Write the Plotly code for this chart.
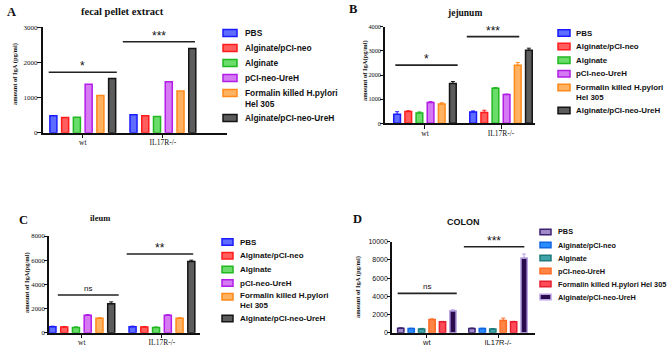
import plotly.graph_objects as go

W, H = 669, 351

groups = ["wt", "IL17R-/-"]
series_abc = ["PBS", "Alginate/pCI-neo", "Alginate", "pCI-neo-UreH",
              "Formalin killed H.pylori<br>Hel 305", "Alginate/pCI-neo-UreH"]
series_d = ["PBS", "Alginate/pCI-neo", "Alginate", "pCI-neo-UreH",
            "Formalin killed H.pylori Hel 305", "Alginate/pCI-neo-UreH"]

# values per series: [wt, IL17R-/-]
fecal = [[480, 510], [430, 480], [440, 460], [1380, 1450], [1060, 1190], [1540, 2400]]
jejunum = [[370, 470], [490, 450], [430, 1450], [860, 1190], [800, 2400], [1650, 3020]]
jejunum_err = [[110, 40], [30, 90], [40, 30], [40, 20], [50, 120], [80, 90]]
ileum = [[500, 500], [480, 480], [440, 440], [1450, 1450], [1200, 1200], [2400, 5900]]
ileum_err = [[40, 40], [30, 30], [40, 30], [50, 40], [30, 30], [150, 100]]
colon = [[480, 470], [450, 450], [420, 420], [1450, 1350], [1200, 1200], [2400, 8200]]
colon_err = [[60, 40], [40, 40], [50, 40], [60, 250], [40, 50], [120, 450]]

panel_titles = ["fecal pellet extract", "jejunum", "ileum", "COLON"]
panel_letters = ["A", "B", "C", "D"]
y_titles = ["amount of IgA (pg/ml)", "amount of IgA(pg/ml)", "amount of IgA(pg/ml)", "amount of IgA (pg/ml)"]
sig_labels = [["*", "***"], ["*", "***"], ["ns", "**"], ["ns", "***"]]
sig_levels = [[1720, 2590], [2410, 3590], [3120, 6510], [4320, 9450]]

fill_abc = ["#5e6cff", "#ff5e5e", "#6adc6a", "#d57af2", "#ffb262", "#5c5c5c"]
line_abc = ["#1c1cff", "#ff1c1c", "#22b822", "#b21de8", "#ff8a1a", "#151515"]
fill_d = ["#a08ac8", "#2a8cff", "#3fa3a8", "#ff8545", "#ff4a58", "#2a0b4e"]
line_d = ["#3e2272", "#1266e0", "#1f7c7c", "#ff6a24", "#e51f30", "#b9a3e3"]

SERIF = "Liberation Serif, Times New Roman, serif"
SANS = "Liberation Sans, Arial, sans-serif"

def xp(px):
    return px / W

def yp(py):
    return 1 - py / H

# panel geometry (pixels)
panels = [
    dict(data=fecal, err=None, names=series_abc, fill=fill_abc, line=line_abc,
         x0=42.7, x1=227, ytop=27.3, ybot=132.7, ymax=3000, dtick=1000,
         xr=[-0.50, 1.80], tickfont=SERIF, ytf=7, ticklen=4,
         ytitle_xy=(15, 74),
         sigx=[[-0.425, 0.425], [0.5, 1.4]],
         title_xy=(122, 11), title_font=(SERIF, 10.5), letter_xy=(11, 12),
         leg=dict(x=223, y=33, dy=15, extra=10, fs=8.4, sw=14, sh=7, tx=243)),
    dict(data=jejunum, err=jejunum_err, names=series_abc, fill=fill_abc, line=line_abc,
         x0=385, x1=535, ytop=26.7, ybot=123.3, ymax=4000, dtick=1000,
         xr=[-0.526, 1.447], tickfont=SERIF, ytf=6.3, ticklen=3,
         ytitle_xy=(365, 70),
         sigx=[[-0.39, 0.43], [0.55, 1.24]],
         title_xy=(464, 13), title_font=(SERIF, 9.5), letter_xy=(353, 9),
         leg=dict(x=558, y=33, dy=13.6, extra=9.5, fs=7.9, sw=12, sh=6.5, tx=574)),
    dict(data=ileum, err=ileum_err, names=series_abc, fill=fill_abc, line=line_abc,
         x0=49, x1=200, ytop=236, ybot=332.7, ymax=8000, dtick=2000,
         xr=[-0.41, 1.475], tickfont=SERIF, ytf=6.8, ticklen=3,
         ytitle_xy=(27, 283),
         sigx=[[-0.30, 0.46], [0.56, 1.39]],
         title_xy=(100, 218), title_font=(SERIF, 8.5), letter_xy=(23, 220),
         leg=dict(x=222, y=242, dy=13.7, extra=8, fs=8.0, sw=11, sh=6.5, tx=238)),
    dict(data=colon, err=colon_err, names=series_d, fill=fill_d, line=line_d,
         x0=392, x1=535, ytop=241.7, ybot=332.7, ymax=10000, dtick=2000,
         xr=[-0.49, 1.52], tickfont=SANS, ytf=7, ticklen=3,
         ytitle_xy=(358, 287),
         sigx=[[-0.41, 0.42], [0.52, 1.37]],
         title_xy=(463, 222), title_font=(SANS, 9), letter_xy=(358, 219),
         leg=dict(x=540, y=232, dy=13, extra=0, fs=7.3, sw=11, sh=5.5, tx=556)),
]

fig = go.Figure()
annotations = []
shapes = []
layout = {}

for pi, p in enumerate(panels):
    k = "" if pi == 0 else str(pi + 1)
    xa, ya = "x" + k, "y" + k
    for si, name in enumerate(p["names"]):
        vals = p["data"][si]
        ey = None
        if p["err"] is not None:
            ey = dict(type="data", array=p["err"][si], arrayminus=[0, 0], symmetric=False,
                      color=p["line"][si], thickness=1, width=2, visible=True)
        fig.add_trace(go.Bar(
            x=groups, y=vals, name=name.replace("<br>", " "),
            marker=dict(color=p["fill"][si], line=dict(color=p["line"][si], width=1.5)),
            error_y=ey, xaxis=xa, yaxis=ya, showlegend=False,
        ))
    layout["xaxis" + k] = dict(
        domain=[xp(p["x0"]), xp(p["x1"])], range=p["xr"], type="category",
        anchor=ya, showline=True, linecolor="#111", linewidth=1.5,
        ticks="outside", ticklen=4, tickwidth=1.2, tickcolor="#111",
        ticklabelstandoff=-2,
        tickfont=dict(family=p["tickfont"], size=7.5, color="#111"),
        showgrid=False, zeroline=False, fixedrange=True, automargin=False)
    layout["yaxis" + k] = dict(
        domain=[yp(p["ybot"]), yp(p["ytop"])], range=[0, p["ymax"]], dtick=p["dtick"],
        tickformat="d",
        anchor=xa, showline=True, linecolor="#111", linewidth=1.5,
        ticks="outside", ticklen=p["ticklen"], tickwidth=1.2, tickcolor="#111",
        ticklabelstandoff=-2,
        tickfont=dict(family=p["tickfont"], size=p["ytf"], color="#111"),
        showgrid=False, zeroline=False, automargin=False)
    # y-axis title
    tx_, ty_ = p["ytitle_xy"]
    annotations.append(dict(x=xp(tx_), y=yp(ty_), xref="paper", yref="paper",
                            text="<b>%s</b>" % y_titles[pi], showarrow=False, textangle=-90,
                            xanchor="center", yanchor="middle",
                            font=dict(family=SERIF, size=6.5, color="#111")))
    # significance bars
    for gi in range(2):
        lvl = sig_levels[pi][gi]
        sx = p["sigx"][gi]
        shapes.append(dict(type="line", xref=xa, yref=ya, x0=sx[0], x1=sx[1], y0=lvl, y1=lvl,
                           line=dict(color="#222", width=1.6)))
        lab = sig_labels[pi][gi]
        annotations.append(dict(
            x=(sx[0] + sx[1]) / 2, y=lvl, xref=xa, yref=ya, text=lab, showarrow=False,
            yanchor="bottom", yshift=(0 if lab == "ns" else -3),
            font=dict(family=SANS, size=(8 if lab == "ns" else 12),
                      color="#111")))
    # titles
    tx, ty = p["title_xy"]
    annotations.append(dict(x=xp(tx), y=yp(ty), xref="paper", yref="paper",
                            text="<b>%s</b>" % panel_titles[pi], showarrow=False,
                            xanchor="center", yanchor="middle",
                            font=dict(family=p["title_font"][0], size=p["title_font"][1], color="#111")))
    lx, ly = p["letter_xy"]
    annotations.append(dict(x=xp(lx), y=yp(ly), xref="paper", yref="paper",
                            text="<b>%s</b>" % panel_letters[pi], showarrow=False,
                            xanchor="center", yanchor="middle",
                            font=dict(family=SERIF, size=12.5, color="#111")))
    # legend (manual)
    lg = p["leg"]
    cy = lg["y"]
    for si, name in enumerate(p["names"]):
        two = "<br>" in name
        shapes.append(dict(type="rect", xref="paper", yref="paper",
                           x0=xp(lg["x"]), x1=xp(lg["x"] + lg["sw"]),
                           y0=yp(cy + lg["sh"] / 2), y1=yp(cy - lg["sh"] / 2),
                           fillcolor=p["fill"][si], line=dict(color=p["line"][si], width=1.5)))
        ty_txt = cy + (lg["extra"] / 2 if two else 0)
        annotations.append(dict(x=xp(lg["tx"]), y=yp(ty_txt), xref="paper", yref="paper",
                                text="<b>%s</b>" % name, showarrow=False,
                                xanchor="left", yanchor="middle", align="left",
                                font=dict(family=SANS, size=lg["fs"], color="#111")))
        cy += lg["dy"] + (lg["extra"] if two else 0)

fig.update_layout(
    width=W, height=H, autosize=False,
    margin=dict(l=0, r=0, t=0, b=0, autoexpand=False),
    paper_bgcolor="white", plot_bgcolor="white",
    barmode="group", bargap=0.12, bargroupgap=0.4,
    showlegend=False, annotations=annotations, shapes=shapes,
    **layout,
)

fig.write_html("out.html", config={"displayModeBar": False},
               post_script="document.body.style.margin='0';document.body.style.overflow='hidden';")
